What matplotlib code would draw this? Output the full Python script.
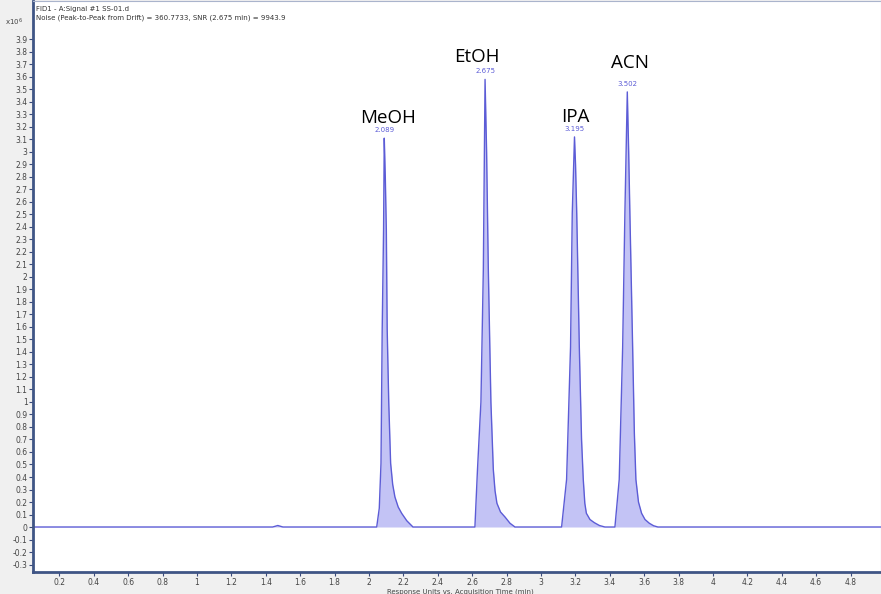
import numpy as np
from matplotlib import pyplot as plt

# retention times (min) and apex heights (x10^6)
names = ['MeOH', 'EtOH', 'IPA', 'ACN']
apex_t = [2.089, 2.675, 3.195, 3.502]
apex_h = [3.11, 3.58, 3.12, 3.48]

# trace samples (time in min, response x10^6)
trace_t = [0.047, 1.440, 1.470, 1.500,
           2.045, 2.060, 2.070, 2.077, 2.085, 2.089, 2.095, 2.101, 2.106, 2.115, 2.126,
           2.138, 2.151, 2.170, 2.190, 2.220, 2.256,
           2.616, 2.631, 2.651, 2.665, 2.675, 2.684, 2.694, 2.709, 2.723, 2.733, 2.744,
           2.765, 2.791, 2.820, 2.849,
           3.120, 3.149, 3.172, 3.182, 3.195, 3.201, 3.208, 3.223, 3.236, 3.246, 3.255, 3.264,
           3.285, 3.310, 3.340, 3.372,
           3.430, 3.455, 3.475, 3.488, 3.502, 3.510, 3.517, 3.533, 3.543, 3.552, 3.567, 3.585,
           3.605, 3.630, 3.655, 3.680,
           4.977]
trace_y = [0.0, 0.0, 0.012, 0.0,
           0.0, 0.15, 0.51, 1.58, 2.38, 3.11, 2.80, 2.38, 1.58, 1.00, 0.51,
           0.34, 0.24, 0.16, 0.11, 0.05, 0.0,
           0.0, 0.46, 1.00, 2.06, 3.58, 3.00, 2.06, 1.00, 0.46, 0.29, 0.19,
           0.12, 0.08, 0.03, 0.0,
           0.0, 0.38, 1.44, 2.51, 3.12, 2.90, 2.51, 1.44, 0.70, 0.38, 0.19, 0.11,
           0.06, 0.035, 0.012, 0.0,
           0.0, 0.38, 1.44, 2.51, 3.48, 3.00, 2.51, 1.44, 0.75, 0.38, 0.20, 0.11,
           0.06, 0.03, 0.01, 0.0,
           0.0]

yticks = np.round(np.arange(-0.3, 3.95, 0.1), 1)
xticks = np.round(np.arange(0.2, 4.85, 0.2), 1)

def fmt(v):
    s = ('%g' % v)
    if s == '-0':
        s = '0'
    return s

fig = plt.figure(figsize=(8.81, 5.94), dpi=100, facecolor='#f0f0f0')
ax = fig.add_axes([0.0375, 0.037, 0.9625, 0.9615])
ax.set_facecolor('white')

ax.fill_between(trace_t, trace_y, 0, color='#c3c3f5', lw=0)
ax.plot(trace_t, trace_y, color='#5c5cd6', lw=1.0)

ax.set_xlim(0.047, 4.977)
ax.set_ylim(-0.36, 4.208)

ax.set_xticks(xticks)
ax.set_xticklabels([fmt(v) for v in xticks])
ax.set_yticks(yticks)
ax.set_yticklabels([fmt(v) for v in yticks])
ax.tick_params(axis='both', labelsize=5.5, colors='#444444', length=3, width=0.8, pad=1)
ax.tick_params(axis='both', color='#3a4a7a')

for side in ['left', 'bottom']:
    ax.spines[side].set_color('#3f5585')
    ax.spines[side].set_linewidth(2.0)
for side in ['top', 'right']:
    ax.spines[side].set_color('#aab4cc')
    ax.spines[side].set_linewidth(0.8)

# peak retention labels
for t, h in zip(apex_t, apex_h):
    ax.text(t, h + 0.04, '%.3f' % t, color='#5c5cd6', fontsize=5, ha='center', va='bottom')

# compound names
label_pos = [(2.11, 3.27), (2.626, 3.76), (3.20, 3.28), (3.52, 3.71)]
for n, (x, y) in zip(names, label_pos):
    ax.text(x, y, n, fontsize=13.5, family=['Open Sans', 'DejaVu Sans'], ha='center', va='center', color='black')

fig.text(0.041, 0.990, 'FID1 - A:Signal #1 SS-01.d', fontsize=5, color='#333333', va='top')
fig.text(0.041, 0.976, 'Noise (Peak-to-Peak from Drift) = 360.7733, SNR (2.675 min) = 9943.9',
         fontsize=5, color='#333333', va='top')
fig.text(0.006, 0.972, r'x10$^{\,6}$', fontsize=5, color='#444444', va='top')
fig.text(0.522, -0.002, 'Response Units vs. Acquisition Time (min)', fontsize=5, color='#444444',
         ha='center', va='bottom')

fig.savefig('out.png', dpi=100, facecolor=fig.get_facecolor())
